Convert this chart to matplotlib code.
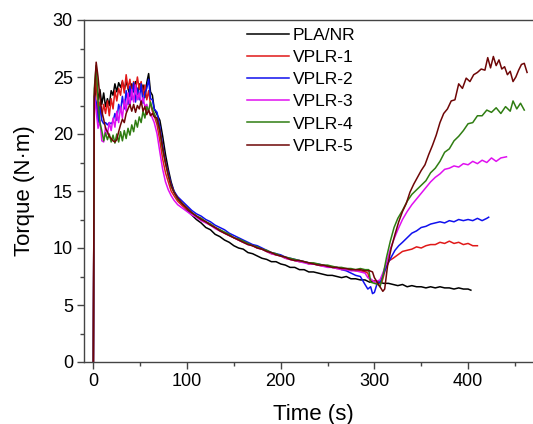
import matplotlib
matplotlib.use("Agg")
import matplotlib.pyplot as plt
from matplotlib.ticker import MultipleLocator

plt.rcParams['font.family'] = ['Liberation Sans', 'DejaVu Sans']

# torque curves, (time s, torque N.m)
pla_nr = [(0, 0), (1, 22.5), (3, 24.6), (5, 23.0), (7, 23.9), (9, 22.6), (11, 23.6), (13, 22.4), (15, 23.1),
          (17, 22.5), (19, 23.8), (21, 23.4), (23, 24.4), (25, 23.7), (27, 24.5), (29, 24.1), (31, 24.6),
          (33, 23.9), (35, 24.6), (37, 24.0), (39, 23.3), (41, 24.4), (43, 23.7), (45, 24.6), (47, 23.5),
          (49, 24.4), (51, 23.8), (53, 24.3), (55, 23.2), (57, 24.5), (59, 25.3), (61, 23.7), (63, 23.4),
          (65, 22.2), (68, 21.7), (71, 21.2), (74, 19.8), (77, 18.2), (80, 16.9), (83, 15.8), (86, 15.0),
          (90, 14.3), (95, 13.8), (100, 13.3), (105, 12.9), (110, 12.5), (115, 12.2), (120, 11.8), (125, 11.6),
          (130, 11.2), (135, 11.0), (140, 10.7), (145, 10.5), (150, 10.2), (155, 10.0), (160, 9.9), (165, 9.6),
          (170, 9.5), (175, 9.3), (180, 9.1), (185, 9.0), (190, 8.8), (195, 8.8), (200, 8.6), (205, 8.5),
          (210, 8.3), (215, 8.3), (220, 8.1), (225, 8.1), (230, 7.9), (235, 7.9), (240, 7.8), (245, 7.7),
          (250, 7.6), (255, 7.6), (260, 7.5), (265, 7.4), (270, 7.5), (275, 7.3), (280, 7.3), (285, 7.2),
          (290, 7.2), (295, 7.0), (300, 7.1), (305, 7.0), (310, 6.9), (315, 6.9), (320, 6.8), (325, 6.7),
          (330, 6.8), (335, 6.6), (340, 6.7), (345, 6.6), (350, 6.6), (355, 6.5), (360, 6.6), (365, 6.5),
          (370, 6.6), (375, 6.5), (380, 6.5), (385, 6.4), (390, 6.5), (395, 6.4), (400, 6.4), (403, 6.3)]

vplr1 = [(0, 0), (1, 23.0), (3, 25.5), (5, 21.0), (7, 22.8), (9, 21.5), (11, 22.6), (13, 21.8), (15, 22.9),
         (17, 21.6), (19, 23.1), (21, 22.2), (23, 23.8), (25, 22.9), (27, 24.0), (29, 23.4), (31, 24.7),
         (33, 23.6), (35, 25.2), (37, 24.0), (39, 24.8), (41, 23.5), (43, 24.6), (45, 23.8), (47, 25.0),
         (49, 23.9), (51, 24.6), (53, 23.4), (55, 24.3), (57, 23.0), (59, 23.8), (61, 22.6), (63, 22.0),
         (65, 21.6), (68, 20.8), (71, 19.4), (74, 17.8), (77, 16.6), (80, 15.8), (83, 15.0), (86, 14.6),
         (90, 14.1), (95, 13.7), (100, 13.4), (105, 13.1), (110, 12.8), (115, 12.6), (120, 12.3), (125, 12.1),
         (130, 11.8), (135, 11.6), (140, 11.3), (145, 11.1), (150, 10.9), (155, 10.7), (160, 10.5), (165, 10.4),
         (170, 10.2), (175, 10.0), (180, 9.9), (185, 9.7), (190, 9.5), (195, 9.4), (200, 9.3), (205, 9.1),
         (210, 9.0), (215, 8.9), (220, 8.8), (225, 8.8), (230, 8.6), (235, 8.6), (240, 8.5), (245, 8.4),
         (250, 8.4), (255, 8.3), (260, 8.2), (265, 8.2), (270, 8.1), (275, 8.1), (280, 8.0), (285, 8.0),
         (290, 7.9), (293, 7.8), (295, 7.2), (300, 7.1), (305, 6.9), (308, 7.0), (312, 8.2), (316, 8.9),
         (320, 9.1), (325, 9.4), (330, 9.7), (335, 9.8), (340, 9.9), (345, 10.1), (350, 10.0), (355, 10.2),
         (360, 10.3), (365, 10.3), (370, 10.5), (375, 10.4), (380, 10.6), (385, 10.4), (390, 10.5), (395, 10.3),
         (400, 10.4), (405, 10.2), (410, 10.2)]

vplr2 = [(0, 0), (1, 23.3), (3, 22.8), (5, 21.0), (7, 22.4), (9, 21.2), (11, 20.9), (13, 21.0), (15, 20.8),
         (17, 21.0), (19, 20.9), (21, 21.1), (23, 21.8), (25, 21.2), (27, 22.6), (29, 22.0), (31, 23.3),
         (33, 22.2), (35, 23.8), (37, 22.6), (39, 24.2), (41, 23.0), (43, 24.5), (45, 22.8), (47, 24.0),
         (49, 23.0), (51, 24.4), (53, 22.7), (55, 23.6), (57, 24.0), (59, 24.8), (61, 23.1), (63, 23.0),
         (65, 22.2), (68, 21.9), (71, 20.6), (74, 19.0), (77, 17.6), (80, 16.6), (83, 15.6), (86, 15.0),
         (90, 14.5), (95, 14.1), (100, 13.7), (105, 13.3), (110, 13.0), (115, 12.8), (120, 12.5), (125, 12.3),
         (130, 12.0), (135, 11.8), (140, 11.6), (145, 11.3), (150, 11.1), (155, 10.9), (160, 10.7), (165, 10.5),
         (170, 10.3), (175, 10.2), (180, 10.0), (185, 9.8), (190, 9.6), (195, 9.5), (200, 9.4), (205, 9.2),
         (210, 9.1), (215, 9.0), (220, 8.9), (225, 8.8), (230, 8.7), (235, 8.6), (240, 8.6), (245, 8.5),
         (250, 8.4), (255, 8.3), (260, 8.3), (265, 8.1), (270, 8.0), (275, 7.8), (280, 7.6), (285, 7.5),
         (290, 6.8), (293, 6.4), (296, 6.6), (298, 6.0), (300, 6.1), (303, 6.9), (306, 7.0), (310, 7.8),
         (314, 8.6), (318, 9.2), (322, 9.8), (326, 10.2), (330, 10.5), (335, 10.9), (340, 11.3), (345, 11.5),
         (350, 11.8), (355, 11.9), (360, 12.1), (365, 12.2), (370, 12.3), (375, 12.2), (380, 12.4), (385, 12.3),
         (390, 12.5), (395, 12.4), (400, 12.5), (405, 12.4), (410, 12.6), (415, 12.4), (420, 12.6), (422, 12.7)]

vplr3 = [(0, 0), (1, 23.4), (3, 22.0), (5, 20.5), (7, 21.2), (9, 19.4), (11, 19.3), (13, 20.6), (15, 20.0),
         (17, 21.0), (19, 20.3), (21, 21.4), (23, 20.6), (25, 22.0), (27, 21.0), (29, 22.4), (31, 21.4),
         (33, 23.0), (35, 22.0), (37, 23.6), (39, 22.4), (41, 23.9), (43, 22.8), (45, 24.3), (47, 23.0),
         (49, 23.6), (51, 22.6), (53, 23.2), (55, 22.4), (57, 22.6), (59, 22.0), (61, 21.8), (63, 21.4),
         (65, 21.0), (68, 20.0), (71, 18.4), (74, 16.9), (77, 15.8), (80, 15.1), (83, 14.6), (86, 14.2),
         (90, 13.8), (95, 13.5), (100, 13.2), (105, 12.9), (110, 12.7), (115, 12.4), (120, 12.2), (125, 12.0),
         (130, 11.7), (135, 11.5), (140, 11.3), (145, 11.1), (150, 10.9), (155, 10.7), (160, 10.5), (165, 10.3),
         (170, 10.2), (175, 10.0), (180, 9.9), (185, 9.7), (190, 9.5), (195, 9.4), (200, 9.3), (205, 9.1),
         (210, 9.0), (215, 8.9), (220, 8.8), (225, 8.7), (230, 8.6), (235, 8.6), (240, 8.5), (245, 8.4),
         (250, 8.3), (255, 8.3), (260, 8.2), (265, 8.1), (270, 8.1), (275, 8.0), (280, 8.0), (285, 7.9),
         (290, 7.8), (293, 7.4), (296, 7.3), (300, 7.0), (303, 7.1), (306, 7.2), (309, 7.8), (313, 8.7),
         (317, 9.9), (321, 10.8), (325, 11.6), (330, 12.5), (335, 13.2), (340, 13.8), (345, 14.3), (350, 14.8),
         (355, 15.3), (360, 15.8), (365, 16.2), (370, 16.5), (375, 16.9), (380, 17.0), (385, 17.2), (390, 17.1),
         (395, 17.4), (400, 17.3), (405, 17.6), (410, 17.4), (415, 17.7), (420, 17.5), (425, 17.9), (430, 17.6),
         (435, 17.9), (441, 18.0)]

vplr4 = [(0, 0), (1, 24.0), (3, 26.0), (5, 23.0), (7, 21.0), (9, 20.3), (11, 19.4), (13, 20.1), (15, 19.5),
         (17, 20.0), (19, 19.3), (21, 19.9), (23, 19.2), (25, 20.0), (27, 19.3), (29, 20.2), (31, 19.4),
         (33, 20.3), (35, 19.6), (37, 20.5), (39, 19.9), (41, 20.8), (43, 20.2), (45, 21.2), (47, 20.6),
         (49, 21.5), (51, 21.0), (53, 22.0), (55, 21.4), (57, 22.4), (59, 22.0), (61, 22.8), (63, 22.2),
         (65, 21.8), (68, 21.2), (71, 20.2), (74, 18.6), (77, 17.4), (80, 16.3), (83, 15.4), (86, 14.9),
         (90, 14.3), (95, 13.9), (100, 13.5), (105, 13.1), (110, 12.8), (115, 12.6), (120, 12.3), (125, 12.1),
         (130, 11.8), (135, 11.6), (140, 11.4), (145, 11.2), (150, 10.9), (155, 10.8), (160, 10.6), (165, 10.4),
         (170, 10.2), (175, 10.1), (180, 9.9), (185, 9.8), (190, 9.6), (195, 9.5), (200, 9.3), (205, 9.2),
         (210, 9.1), (215, 9.0), (220, 8.9), (225, 8.8), (230, 8.7), (235, 8.7), (240, 8.6), (245, 8.5),
         (250, 8.5), (255, 8.4), (260, 8.3), (265, 8.3), (270, 8.2), (275, 8.2), (280, 8.1), (285, 8.2),
         (290, 8.1), (294, 8.1), (296, 7.0), (300, 6.9), (304, 6.8), (306, 6.6), (309, 7.5), (313, 9.2),
         (317, 10.6), (321, 11.8), (325, 12.6), (330, 13.3), (335, 14.1), (340, 14.7), (345, 15.1), (350, 15.5),
         (355, 15.9), (360, 16.6), (365, 17.0), (370, 17.6), (375, 18.4), (380, 18.7), (385, 19.4), (390, 19.8),
         (395, 20.3), (400, 20.9), (405, 21.0), (410, 21.6), (415, 21.6), (420, 22.1), (425, 21.9), (430, 22.3),
         (435, 21.8), (440, 22.4), (445, 22.0), (448, 22.9), (452, 22.2), (456, 22.7), (460, 22.1)]

vplr5 = [(0, 0), (1, 23.5), (3, 26.3), (5, 25.0), (7, 23.2), (9, 22.0), (11, 21.3), (13, 20.5), (15, 20.2),
         (17, 19.8), (19, 19.6), (21, 19.4), (23, 19.3), (25, 19.5), (27, 20.2), (29, 20.8), (31, 21.3),
         (33, 21.0), (35, 21.8), (37, 22.2), (39, 22.6), (41, 22.0), (43, 22.6), (45, 21.9), (47, 22.5),
         (49, 22.2), (51, 22.9), (53, 22.0), (55, 22.4), (57, 21.7), (59, 22.1), (61, 21.6), (63, 21.8),
         (65, 21.5), (68, 21.4), (71, 20.3), (74, 18.8), (77, 17.5), (80, 16.4), (83, 15.5), (86, 14.9),
         (90, 14.4), (95, 13.9), (100, 13.5), (105, 13.1), (110, 12.8), (115, 12.5), (120, 12.3), (125, 12.0),
         (130, 11.8), (135, 11.5), (140, 11.3), (145, 11.1), (150, 10.9), (155, 10.7), (160, 10.5), (165, 10.3),
         (170, 10.2), (175, 10.0), (180, 9.9), (185, 9.7), (190, 9.6), (195, 9.4), (200, 9.3), (205, 9.2),
         (210, 9.0), (215, 8.9), (220, 8.9), (225, 8.8), (230, 8.7), (235, 8.6), (240, 8.5), (245, 8.5),
         (250, 8.4), (255, 8.3), (260, 8.3), (265, 8.2), (270, 8.2), (275, 8.1), (280, 8.1), (285, 8.1),
         (290, 8.0), (295, 8.0), (298, 7.9), (300, 7.4), (303, 7.0), (306, 6.6), (309, 6.2), (311, 6.4),
         (314, 8.4), (318, 10.0), (322, 11.2), (326, 12.3), (330, 13.2), (334, 13.9), (338, 14.9), (342, 15.6),
         (346, 16.2), (350, 16.8), (354, 17.3), (358, 18.2), (362, 19.0), (366, 19.9), (370, 21.0), (374, 21.8),
         (378, 22.2), (382, 22.9), (386, 23.0), (390, 24.4), (394, 24.0), (398, 24.9), (402, 24.6), (406, 25.2),
         (410, 25.4), (414, 25.7), (418, 25.6), (421, 26.7), (424, 25.8), (427, 26.8), (430, 26.0), (433, 26.5),
         (436, 25.7), (439, 25.9), (442, 25.2), (445, 25.5), (448, 24.6), (451, 25.0), (454, 25.6), (457, 26.1),
         (460, 26.2), (463, 25.4)]

series = [pla_nr, vplr1, vplr2, vplr3, vplr4, vplr5]
labels = ['PLA/NR', 'VPLR-1', 'VPLR-2', 'VPLR-3', 'VPLR-4', 'VPLR-5']
colors = ['#000000', '#e01818', '#1010ee', '#e010f0', '#2f7d12', '#6e0606']

fig = plt.figure(figsize=(5.33, 4.24), dpi=100)
ax = fig.add_axes([84 / 533, 62 / 424, 459 / 533, 342 / 424])

for data, lab, col in zip(series, labels, colors):
    t, y = zip(*data)
    ax.plot(t, y, color=col, lw=1.1, label=lab)

ax.set_xlim(-10, 480)
ax.set_ylim(0, 30)
ax.xaxis.set_major_locator(MultipleLocator(100))
ax.xaxis.set_minor_locator(MultipleLocator(50))
ax.yaxis.set_major_locator(MultipleLocator(5))
ax.yaxis.set_minor_locator(MultipleLocator(2.5))
ax.tick_params(which='both', direction='out', colors='#444444', labelcolor='black', width=1.0)
ax.tick_params(which='major', length=5, labelsize=13, pad=3)
ax.tick_params(which='minor', length=3)
for s in ax.spines.values():
    s.set_color('#444444')
    s.set_linewidth(1.0)
ax.spines['right'].set_visible(False)

ax.set_xlabel('Time (s)', fontsize=16, labelpad=10)
ax.set_ylabel('Torque (N·m)', fontsize=16, labelpad=13)

ax.legend(loc='upper left', bbox_to_anchor=(247 / 533, 1 - 28 / 424), bbox_transform=fig.transFigure,
          frameon=False, fontsize=12.5, handlelength=2.4, handletextpad=0.25, labelspacing=0.4,
          borderpad=0, borderaxespad=0)

plt.savefig('out.png', dpi=100)
